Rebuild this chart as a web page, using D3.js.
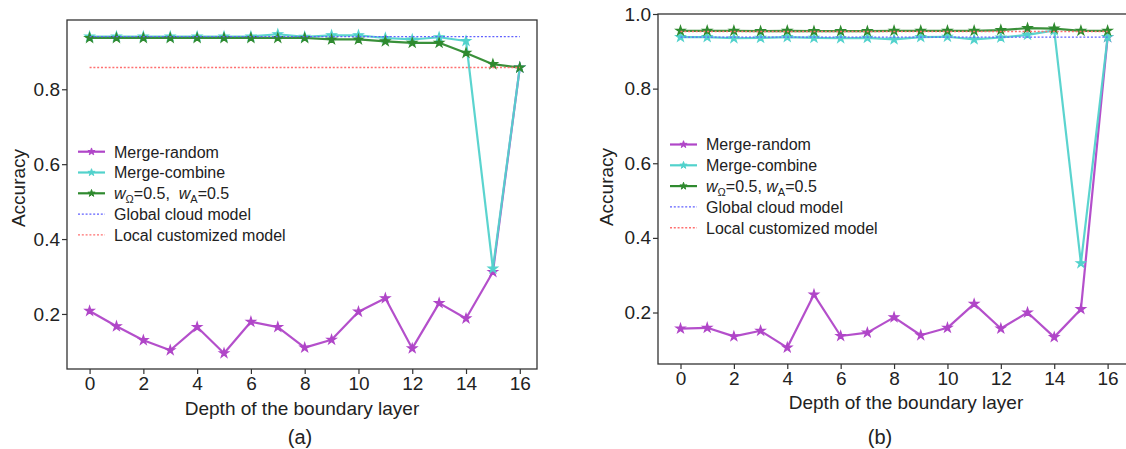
<!DOCTYPE html>
<html>
<head>
<meta charset="utf-8">
<script src="https://cdn.jsdelivr.net/npm/d3@7"></script>
<style>
  html, body { margin: 0; padding: 0; background: #fff; }
  svg { display: block; font-family: "Liberation Sans", Arial, sans-serif; }
</style>
</head>
<body>
<svg id="chart" width="1126" height="449"></svg>
<script>
// ---------------- DATA ----------------
const layers = [0,1,2,3,4,5,6,7,8,9,10,11,12,13,14,15,16];
const xTicks = [0,2,4,6,8,10,12,14,16];
const yTicksA = [0.2,0.4,0.6,0.8];
const yTicksB = [0.2,0.4,0.6,0.8,1.0];
const seriesNames = ["Merge-random","Merge-combine","wavg","Global cloud model","Local customized model"];

// Panel (a)
const aRandom  = [0.208,0.167,0.130,0.103,0.165,0.095,0.179,0.165,0.110,0.131,0.206,0.242,0.108,0.229,0.188,0.312,0.858];
const aCombine = [0.941,0.941,0.941,0.941,0.941,0.941,0.941,0.947,0.940,0.944,0.944,0.937,0.933,0.939,0.929,0.321,0.858];
const aWavg    = [0.937,0.937,0.937,0.937,0.937,0.937,0.937,0.937,0.937,0.933,0.933,0.928,0.924,0.924,0.897,0.867,0.858];
const aGlobal  = 0.9405;
const aLocal   = 0.858;

// Panel (b)
const bRandom  = [0.157,0.159,0.136,0.151,0.106,0.248,0.137,0.146,0.187,0.139,0.159,0.223,0.157,0.200,0.134,0.209,0.938];
const bCombine = [0.938,0.938,0.935,0.936,0.938,0.936,0.935,0.936,0.932,0.938,0.939,0.932,0.937,0.944,0.956,0.332,0.938];
const bWavg    = [0.955,0.955,0.955,0.954,0.955,0.954,0.954,0.954,0.955,0.955,0.955,0.955,0.957,0.962,0.961,0.955,0.955];
const bGlobal  = 0.938;
const bLocal   = 0.953;

// ---------------- STYLE ----------------
const C = {
  random: "#b046c8",
  combine: "#52d2cc",
  wavg: "#2f8a2f",
  global: "#6060ff",
  local: "#ff7070",
  axis: "#333",
  text: "#222"
};

const svg = d3.select("#chart");

function drawPanel(cfg) {
  const g = svg.append("g");
  const x = d3.scaleLinear().domain(cfg.xDomain).range([cfg.left, cfg.right]);
  const y = d3.scaleLinear().domain(cfg.yDomain).range([cfg.bottom, cfg.top]);

  // frame
  g.append("rect")
    .attr("x", cfg.left).attr("y", cfg.top)
    .attr("width", cfg.frameRight - cfg.left).attr("height", cfg.bottom - cfg.top)
    .attr("fill", "none").attr("stroke", C.axis).attr("stroke-width", 1.3);

  // axes
  const xa = g.append("g").attr("transform", `translate(0,${cfg.bottom})`)
    .call(d3.axisBottom(x).tickValues(xTicks).tickSize(5).tickPadding(3).tickFormat(d3.format("d")));
  const ya = g.append("g").attr("transform", `translate(${cfg.left},0)`)
    .call(d3.axisLeft(y).tickValues(cfg.yTicks).tickSize(5).tickPadding(2).tickFormat(d3.format(".1f")));
  [xa, ya].forEach(a => {
    a.select(".domain").remove();
    a.selectAll(".tick line").attr("stroke", C.axis).attr("stroke-width", 1.2);
    a.selectAll(".tick text").attr("fill", C.text).attr("font-size", 19)
      .attr("font-family", "'Liberation Sans', Arial, sans-serif");
  });

  const line = d3.line().x((d, i) => x(layers[i])).y(d => y(d));
  const star = d3.symbol().type(d3.symbolStar).size(26);

  function series(vals, color) {
    g.append("path").datum(vals).attr("d", line)
      .attr("fill", "none").attr("stroke", color).attr("stroke-width", 2.2)
      .attr("stroke-opacity", 0.95).attr("stroke-linejoin", "round");
    g.selectAll(null).data(vals).enter().append("path")
      .attr("d", star)
      .attr("transform", (d, i) => `translate(${x(layers[i])},${y(d)})`)
      .attr("fill", color).attr("stroke", color).attr("stroke-width", 1.2);
  }
  series(cfg.random, C.random);
  series(cfg.combine, C.combine);
  series(cfg.wavg, C.wavg);

  function hline(v, color) {
    g.append("line")
      .attr("x1", x(layers[0])).attr("x2", x(layers[layers.length - 1]))
      .attr("y1", y(v)).attr("y2", y(v))
      .attr("stroke", color).attr("stroke-width", 1.4).attr("stroke-dasharray", "2,1.8");
  }
  hline(cfg.global, C.global);
  hline(cfg.local, C.local);

  // legend
  const lg = g.append("g");
  const rows = [
    {type: "m", color: C.random, label: "Merge-random"},
    {type: "m", color: C.combine, label: "Merge-combine"},
    {type: "m", color: C.wavg, label: "wavg"},
    {type: "d", color: C.global, label: "Global cloud model"},
    {type: "d", color: C.local, label: "Local customized model"}
  ];
  const lstar = d3.symbol().type(d3.symbolStar).size(16);
  rows.forEach((r, i) => {
    const yy = cfg.legY + i * cfg.legStep;
    if (r.type === "m") {
      lg.append("line").attr("x1", cfg.legX).attr("x2", cfg.legX + 27)
        .attr("y1", yy).attr("y2", yy).attr("stroke", r.color).attr("stroke-width", 2.2);
      lg.append("path").attr("d", lstar).attr("transform", `translate(${cfg.legX + 13.5},${yy})`)
        .attr("fill", r.color).attr("stroke", r.color).attr("stroke-width", 1);
    } else {
      lg.append("line").attr("x1", cfg.legX).attr("x2", cfg.legX + 27)
        .attr("y1", yy).attr("y2", yy)
        .attr("stroke", r.color).attr("stroke-width", 1.4)
        .attr("stroke-dasharray", "2,1.8");
    }
    const t = lg.append("text").attr("x", cfg.legX + 36).attr("y", yy + 5.8)
      .attr("font-size", 16).attr("fill", C.text);
    if (r.label === "wavg") {
      t.append("tspan").attr("font-style", "italic").text("w");
      t.append("tspan").attr("font-size", 11).attr("dy", 4).text("Ω");
      t.append("tspan").attr("dy", -4).text("=0.5," + cfg.gap);
      t.append("tspan").attr("font-style", "italic").text("w");
      t.append("tspan").attr("font-size", 11).attr("dy", 4).text("A");
      t.append("tspan").attr("dy", -4).text("=0.5");
    } else {
      t.text(r.label);
    }
  });

  // axis titles
  g.append("text").attr("x", cfg.xLabelX).attr("y", cfg.xLabelY)
    .attr("text-anchor", "middle").attr("font-size", 19).attr("fill", C.text)
    .text("Depth of the boundary layer");
  g.append("text")
    .attr("transform", `translate(${cfg.yLabelX},${cfg.yLabelY}) rotate(-90)`)
    .attr("text-anchor", "middle").attr("font-size", 19).attr("fill", C.text)
    .text("Accuracy");
  g.append("text").attr("x", cfg.capX).attr("y", cfg.capY)
    .attr("text-anchor", "middle").attr("font-size", 20).attr("fill", C.text)
    .text(cfg.caption);
}

drawPanel({
  left: 67, right: 537, frameRight: 537, top: 20, bottom: 369,
  xDomain: [-0.84, 16.64], yDomain: [0.053, 0.985], yTicks: yTicksA,
  random: aRandom, combine: aCombine, wavg: aWavg, global: aGlobal, local: aLocal,
  legX: 78, legY: 151.7, legStep: 20.8, gap: "\u00a0 ",
  xLabelX: 302, xLabelY: 415, yLabelX: 25, yLabelY: 188,
  caption: "(a)", capX: 300, capY: 444
});

drawPanel({
  left: 658, right: 1125.5, frameRight: 1128, top: 14, bottom: 364,
  xDomain: [-0.843, 16.67], yDomain: [0.062, 1.0], yTicks: yTicksB,
  random: bRandom, combine: bCombine, wavg: bWavg, global: bGlobal, local: bLocal,
  legX: 670, legY: 144.5, legStep: 20.8, gap: " ",
  xLabelX: 906, xLabelY: 409, yLabelX: 613, yLabelY: 187,
  caption: "(b)", capX: 880, capY: 444
});
</script>
</body>
</html>
